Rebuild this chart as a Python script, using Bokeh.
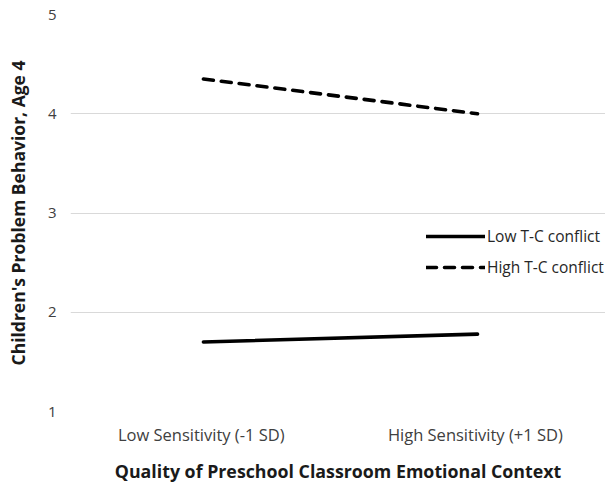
from bokeh.plotting import figure
from bokeh.models import Range1d, FixedTicker, Legend, LegendItem
from bokeh.embed import file_html
from bokeh.resources import INLINE

categories = ["Low Sensitivity  (-1 SD)", "High Sensitivity  (+1 SD)"]
cat_pos = [0.5, 1.5]
low_conflict = [1.70, 1.78]
high_conflict = [4.35, 4.00]
series_names = ["Low T-C conflict", "High T-C conflict"]
y_ticks = [1, 2, 3, 4, 5]

FONT = "Open Sans"

p = figure(frame_width=535, frame_height=397, output_backend="svg", toolbar_location=None,
           x_range=Range1d(0.015, 1.967), y_range=Range1d(1, 5),
           min_border_left=70, min_border_right=0, min_border_top=14, min_border_bottom=60)
p.outline_line_color = None
p.background_fill_color = "white"
p.border_fill_color = "white"

r1 = p.line(cat_pos, low_conflict, line_color="black", line_width=3.6, line_cap="round")
r2 = p.line(cat_pos, high_conflict, line_color="black", line_width=3.6, line_dash="10 8", line_cap="round")

p.xgrid.grid_line_color = None
p.ygrid.grid_line_color = "#d9d9d9"
p.ygrid.grid_line_width = 1

p.yaxis.ticker = FixedTicker(ticks=y_ticks)
p.xaxis.ticker = FixedTicker(ticks=cat_pos)
p.xaxis.major_label_overrides = {cat_pos[i]: categories[i] for i in range(2)}

for ax in (p.xaxis[0], p.yaxis[0]):
    ax.axis_line_color = None
    ax.major_tick_line_color = None
    ax.minor_tick_line_color = None
    ax.major_tick_out = 0
    ax.major_tick_in = 0
    ax.major_label_text_font = FONT
    ax.major_label_text_color = "#404040"
    ax.axis_label_text_font = FONT
    ax.axis_label_text_font_style = "bold"
    ax.axis_label_text_color = "#1a1a1a"

p.xaxis.major_label_text_font_size = "16.5px"
p.yaxis.major_label_text_font_size = "15px"
p.xaxis.axis_label_text_font_size = "17.8px"
p.yaxis.axis_label_text_font_size = "17.5px"

p.xaxis.axis_label = "Quality of Preschool Classroom Emotional Context"
p.yaxis.axis_label = "Children's Problem Behavior, Age 4"
p.xaxis.major_label_standoff = 11
p.xaxis.axis_label_standoff = 10
p.yaxis.major_label_standoff = 14
p.yaxis.axis_label_standoff = 15

legend = Legend(items=[LegendItem(label=series_names[0], renderers=[r1]),
                       LegendItem(label=series_names[1], renderers=[r2])],
                location=(356, 133))
legend.background_fill_alpha = 0
legend.border_line_color = None
legend.label_text_font = FONT
legend.label_text_font_size = "15.5px"
legend.label_text_color = "#262626"
legend.glyph_width = 59
legend.glyph_height = 20
legend.label_height = 20
legend.spacing = 9
legend.label_standoff = 2
legend.padding = 0
legend.margin = 0
p.add_layout(legend)

open("out.html", "w").write(file_html(p, INLINE))
